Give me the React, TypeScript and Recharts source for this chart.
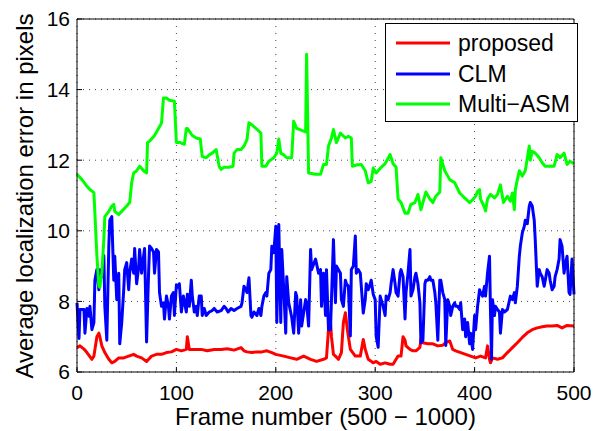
import React from "react";
import { LineChart, Line, XAxis, YAxis, CartesianGrid } from "recharts";

const FONT = '"Liberation Sans", Arial, Helvetica, sans-serif';

const xTicks = [0, 100, 200, 300, 400, 500];
const yTicks = [6, 8, 10, 12, 14, 16];

// [frame, error]
const proposed: [number, number][] = [
  [0, 6.69], [3, 6.74], [7, 6.65], [10, 6.55], [15, 6.36], [17, 6.45], [20, 7.0], [22, 7.1], [23, 7.0],
  [25, 6.74], [28, 6.55], [32, 6.36], [35, 6.26], [38, 6.3], [42, 6.4], [47, 6.4], [52, 6.45], [57, 6.5],
  [60, 6.45], [65, 6.4], [70, 6.3], [75, 6.45], [80, 6.5], [85, 6.5], [90, 6.55], [95, 6.57], [100, 6.64],
  [105, 6.6], [110, 6.64], [111, 7.0], [113, 6.64], [118, 6.64], [125, 6.64], [131, 6.6], [138, 6.64],
  [145, 6.64], [151, 6.66], [158, 6.62], [165, 6.69], [168, 6.6], [171, 6.57], [176, 6.55], [181, 6.57],
  [186, 6.57], [191, 6.6], [196, 6.55], [200, 6.5], [208, 6.45], [215, 6.4], [221, 6.36], [228, 6.45],
  [235, 6.36], [241, 6.3], [248, 6.36], [251, 6.4], [253, 7.2], [255, 7.44], [256, 7.0], [258, 6.5],
  [260, 6.45], [263, 6.36], [266, 6.55], [268, 7.4], [270, 7.68], [272, 7.2], [275, 6.64], [280, 6.45],
  [285, 6.45], [288, 6.92], [290, 6.64], [293, 6.36], [298, 6.26], [301, 6.3], [305, 6.22], [310, 6.26],
  [315, 6.22], [318, 6.22], [321, 6.36], [323, 6.45], [326, 6.45], [328, 7.0], [330, 6.9], [331, 6.74],
  [335, 6.64], [338, 6.6], [341, 6.6], [345, 6.7], [346, 6.93], [348, 6.83], [353, 6.8], [358, 6.8],
  [363, 6.74], [368, 6.76], [371, 6.83], [375, 6.88], [376, 6.8], [378, 6.64], [381, 6.6], [386, 6.55],
  [391, 6.5], [396, 6.45], [401, 6.4], [406, 6.45], [411, 6.4], [413, 6.74], [415, 6.36], [416, 6.26],
  [418, 6.4], [423, 6.36], [428, 6.4], [433, 6.55], [438, 6.69], [443, 6.83], [448, 6.98], [453, 7.11],
  [458, 7.2], [463, 7.25], [468, 7.28], [473, 7.3], [478, 7.3], [483, 7.32], [488, 7.25], [493, 7.32],
  [500, 7.3],
];

const clm: [number, number][] = [
  [0, 7.96], [2, 6.95], [3, 7.77], [7, 7.77], [8, 7.1], [10, 7.8], [12, 7.58], [13, 7.86], [15, 7.2],
  [17, 7.4], [18, 8.6], [20, 8.9], [22, 8.33], [23, 8.9], [25, 8.7], [27, 9.3], [28, 7.86], [30, 6.9],
  [32, 9.56], [33, 10.3], [35, 10.4], [37, 8.6], [38, 9.28], [40, 8.05], [42, 8.8], [43, 6.8], [45, 7.4],
  [47, 8.33], [48, 8.9], [50, 9.1], [52, 8.33], [53, 8.8], [55, 9.2], [57, 8.8], [58, 9.5], [60, 8.5],
  [62, 8.96], [63, 9.47], [65, 8.8], [67, 9.28], [68, 9.5], [70, 6.85], [72, 8.8], [73, 9.57], [75, 9.5],
  [77, 9.4], [78, 8.8], [80, 9.47], [82, 9.4], [83, 8.25], [85, 7.86], [87, 7.96], [88, 7.5], [90, 8.15],
  [92, 7.86], [93, 7.5], [95, 8.15], [97, 8.25], [98, 7.6], [100, 8.47], [102, 8.4], [103, 8.5],
  [105, 7.7], [107, 8.15], [110, 7.7], [111, 8.2], [113, 7.86], [115, 8.6], [116, 8.15], [118, 7.7],
  [120, 7.86], [121, 7.6], [123, 8.15], [125, 8.15], [126, 7.6], [128, 7.8], [130, 7.6], [133, 7.7],
  [136, 7.74], [138, 7.8], [141, 7.7], [145, 7.74], [148, 7.86], [150, 7.8], [152, 7.7], [155, 7.8],
  [158, 7.74], [161, 7.8], [165, 7.86], [166, 7.96], [168, 8.43], [170, 8.33], [171, 8.25], [173, 8.67],
  [175, 7.6], [176, 7.55], [178, 7.7], [181, 7.6], [183, 7.8], [185, 7.6], [186, 7.86], [188, 8.15],
  [190, 8.25], [191, 8.15], [193, 8.8], [195, 8.9], [196, 9.56], [198, 9.38], [200, 10.13], [201, 7.4],
  [203, 10.18], [205, 7.4], [206, 9.47], [208, 8.33], [210, 7.1], [211, 8.7], [213, 7.96], [216, 7.55],
  [218, 7.1], [220, 8.25], [221, 8.15], [223, 7.1], [225, 8.05], [226, 7.3], [230, 8.05], [231, 7.96],
  [233, 7.3], [235, 9.47], [236, 8.9], [240, 9.2], [243, 8.8], [245, 8.9], [246, 7.86], [248, 8.8],
  [250, 7.6], [251, 8.9], [253, 7.2], [255, 7.2], [256, 8.05], [258, 9.75], [260, 7.96], [261, 9.0],
  [265, 8.8], [266, 8.05], [268, 7.86], [270, 8.6], [271, 8.5], [273, 8.43], [275, 7.02], [276, 8.9],
  [278, 9.0], [280, 9.85], [281, 8.8], [283, 8.9], [285, 8.8], [286, 8.43], [288, 7.67], [290, 8.05],
  [291, 8.5], [293, 8.33], [295, 8.5], [296, 8.6], [298, 8.2], [300, 8.05], [301, 7.0], [303, 6.7],
  [305, 8.15], [306, 8.05], [308, 7.86], [310, 7.6], [311, 8.15], [313, 8.05], [315, 8.25], [316, 8.5],
  [318, 8.9], [320, 8.5], [321, 8.25], [323, 8.15], [325, 8.8], [326, 8.9], [328, 8.7], [330, 7.5],
  [331, 8.25], [333, 8.8], [335, 9.47], [336, 8.15], [338, 8.33], [340, 8.7], [341, 8.8], [343, 8.5],
  [345, 7.96], [346, 6.83], [348, 6.9], [350, 8.5], [351, 8.6], [353, 8.6], [355, 8.7], [356, 8.6],
  [358, 8.6], [360, 8.25], [361, 7.96], [363, 6.9], [365, 8.6], [366, 8.6], [368, 8.25], [370, 8.05],
  [371, 6.75], [373, 8.05], [375, 7.86], [376, 7.6], [378, 7.86], [380, 7.96], [381, 7.86], [383, 7.86],
  [385, 7.77], [386, 7.96], [388, 7.2], [390, 7.5], [391, 7.0], [393, 7.4], [395, 6.8], [396, 7.1],
  [398, 6.64], [400, 7.6], [401, 7.2], [403, 7.86], [405, 8.33], [406, 8.25], [408, 8.15], [410, 8.43],
  [411, 8.15], [413, 8.8], [415, 9.28], [416, 7.7], [417, 6.36], [418, 8.05], [420, 7.6], [421, 7.86],
  [423, 7.77], [425, 7.7], [426, 7.1], [428, 7.77], [430, 7.7], [433, 7.77], [436, 8.15], [438, 8.05],
  [440, 8.25], [441, 7.96], [443, 8.43], [445, 9.28], [446, 9.56], [448, 9.94], [450, 10.13], [451, 10.3],
  [453, 10.2], [455, 10.7], [456, 10.8], [458, 10.7], [460, 10.3], [461, 9.75], [463, 8.43], [465, 8.9],
  [466, 8.8], [468, 8.7], [470, 8.43], [473, 8.9], [475, 8.8], [476, 8.6], [478, 8.33], [480, 8.43],
  [481, 8.7], [483, 8.9], [485, 9.2], [486, 9.75], [488, 9.56], [490, 8.8], [491, 9.0], [493, 9.28],
  [495, 8.25], [496, 8.2], [498, 9.2], [500, 8.2],
];

const multiAsm: [number, number][] = [
  [0, 11.6], [5, 11.45], [10, 11.26], [13, 11.17], [17, 11.08], [18, 10.5], [20, 9.3], [22, 8.43],
  [23, 8.4], [25, 8.8], [27, 9.75], [28, 10.4], [32, 10.55], [35, 10.7], [37, 10.75], [38, 10.55],
  [42, 10.46], [45, 10.55], [50, 10.7], [53, 10.8], [55, 11.36], [57, 11.64], [60, 11.7], [63, 11.83],
  [67, 11.7], [70, 11.64], [71, 12.5], [73, 12.54], [78, 12.7], [82, 12.9], [85, 13.05], [87, 13.76],
  [90, 13.76], [93, 13.7], [98, 13.67], [100, 12.5], [104, 12.5], [108, 12.45], [110, 12.9], [111, 12.9],
  [116, 12.7], [120, 12.63], [124, 12.6], [126, 12.1], [130, 12.07], [133, 12.15], [136, 12.2], [140, 12.3],
  [141, 12.15], [143, 11.83], [145, 11.74], [148, 11.8], [153, 11.8], [157, 11.83], [158, 12.2], [161, 12.3],
  [165, 12.3], [168, 12.4], [171, 12.58], [173, 13.06], [176, 13.0], [180, 12.9], [185, 12.77], [186, 11.83],
  [190, 11.83], [193, 11.97], [198, 12.07], [201, 12.2], [203, 12.6], [205, 12.2], [208, 12.15], [211, 12.07],
  [216, 12.07], [218, 13.1], [221, 12.9], [230, 12.8], [231, 15.0], [233, 11.64], [240, 11.6], [245, 11.6],
  [248, 11.88], [251, 11.88], [253, 12.4], [256, 12.63], [258, 12.87], [261, 12.5], [265, 12.77], [270, 12.63],
  [273, 12.68], [276, 12.63], [277, 11.83], [282, 11.87], [286, 11.88], [290, 11.7], [293, 11.36], [296, 11.4],
  [298, 11.78], [301, 11.64], [306, 11.8], [310, 11.9], [315, 12.16], [318, 11.9], [321, 11.8], [323, 10.9],
  [326, 10.8], [330, 10.5], [333, 10.5], [336, 10.75], [340, 10.8], [343, 11.03], [346, 10.6], [351, 11.1],
  [355, 10.9], [358, 10.8], [361, 10.98], [365, 11.1], [366, 12.07], [370, 11.7], [375, 11.45], [380, 11.36],
  [385, 11.07], [390, 10.93], [395, 10.8], [398, 10.88], [401, 10.98], [403, 11.12], [405, 11.17], [406, 10.9],
  [410, 10.66], [411, 10.56], [413, 10.9], [416, 11.03], [420, 10.93], [423, 11.03], [426, 11.3], [429, 10.8],
  [433, 10.98], [436, 10.84], [438, 11.07], [440, 10.6], [441, 11.17], [443, 11.45], [445, 11.7], [448, 11.55],
  [451, 11.7], [455, 12.4], [456, 12.0], [458, 12.25], [461, 12.2], [465, 12.07], [468, 11.93], [471, 11.83],
  [476, 11.83], [480, 11.83], [483, 12.16], [486, 12.07], [490, 12.2], [493, 11.88], [496, 11.97], [500, 11.9],
];

const series = [
  { key: "proposed", name: "proposed", color: "#ff0000", points: proposed },
  { key: "clm", name: "CLM", color: "#0000ff", points: clm },
  { key: "asm", name: "Multi\u2212ASM", color: "#00ff00", points: multiAsm },
];

function buildRows() {
  const rows = new Map<number, Record<string, number>>();
  series.forEach((s) => {
    s.points.forEach(([f, v]) => {
      const row = rows.get(f) ?? { frame: f };
      row[s.key] = v;
      rows.set(f, row);
    });
  });
  return [...rows.values()].sort((a, b) => a.frame - b.frame);
}

const rows = buildRows();

const tickStyle = { fill: "#000", fontSize: 21, fontFamily: FONT };

const YLabel = () => (
  <text x={33} y={196} transform="rotate(-90 33 196)" textAnchor="middle" fontSize={24} fontFamily={FONT} fill="#000">
    Average localization error in pixels
  </text>
);

function LegendBox() {
  return (
    <div
      style={{
        position: "absolute", left: 385, top: 23, width: 191, height: 97,
        border: "1px solid #000", background: "#fff", fontFamily: FONT, fontSize: 23,
      }}
    >
      {series.map((s, i) => (
        <div key={s.key} style={{ position: "absolute", left: 10, top: 4 + i * 30.5, height: 30, display: "flex", alignItems: "center" }}>
          <svg width={54} height={6} style={{ display: "block" }}>
            <line x1={0} y1={3} x2={54} y2={3} stroke={s.color} strokeWidth={3} />
          </svg>
          <span style={{ marginLeft: 8, lineHeight: "30px", whiteSpace: "nowrap" }}>{s.name}</span>
        </div>
      ))}
    </div>
  );
}

export default function App() {
  return (
    <div style={{ position: "absolute", left: 0, top: 0, width: 600, height: 431, background: "#fff" }}>
      <LineChart width={600} height={431} data={rows} margin={{ top: 0, right: 0, bottom: 0, left: 0 }}>
        <CartesianGrid horizontal={false} stroke="#444" strokeDasharray="1 6" />
        <CartesianGrid vertical={false} stroke="#444" strokeDasharray="1 5" />
        <XAxis
          dataKey="frame" type="number" domain={[0, 500]} ticks={xTicks} interval={0}
          height={59} stroke="#000" tickSize={-5} tickMargin={18} tick={tickStyle}
          label={{ value: "Frame number (500 \u2212 1000)", position: "insideBottom", offset: 6, fontSize: 24, fontFamily: FONT, fill: "#000" }}
        />
        <XAxis
          xAxisId="top" orientation="top" dataKey="frame" type="number" domain={[0, 500]} ticks={xTicks}
          height={19} stroke="#000" tickSize={-5} tick={false}
        />
        <YAxis
          type="number" domain={[6, 16]} ticks={yTicks} interval={0} width={77}
          stroke="#000" tickSize={-5} tickMargin={12} tick={tickStyle}
          label={<YLabel />}
        />
        <YAxis
          yAxisId="right" orientation="right" type="number" domain={[6, 16]} ticks={yTicks}
          width={26} stroke="#000" tickSize={-5} tick={false}
        />
        {series.map((s) => (
          <Line
            key={s.key} type="linear" dataKey={s.key} name={s.name} stroke={s.color} strokeWidth={3}
            dot={false} connectNulls isAnimationActive={false} strokeLinejoin="round"
          />
        ))}
      </LineChart>
      <LegendBox />
    </div>
  );
}
